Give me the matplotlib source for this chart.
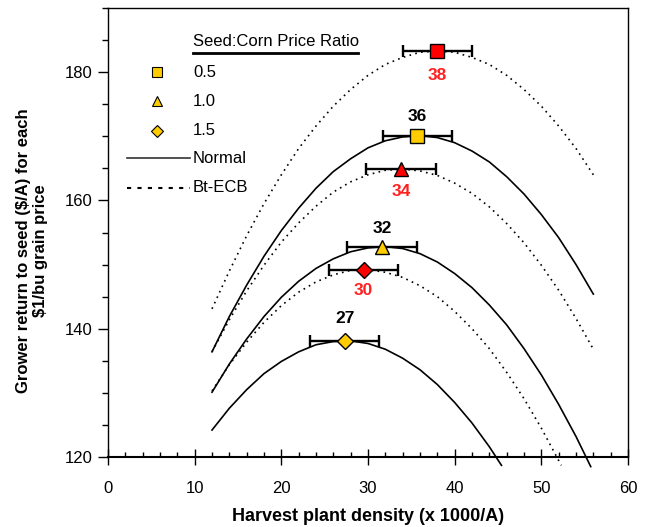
import matplotlib
matplotlib.use("Agg")
from matplotlib import pyplot as plt
from matplotlib.lines import Line2D

plt.rcParams['font.family'] = ['Liberation Sans', 'DejaVu Sans']

# curves (x = harvest density, y = return)
x_grid = [12, 14, 16, 18, 20, 22, 24, 26, 28, 30, 32, 34,
          36, 38, 40, 42, 44, 46, 48, 50, 52, 54, 56]

bt_05 = [143.1, 149.0, 154.5, 159.5, 164.0, 168.1, 171.6, 174.7, 177.3, 179.5, 181.2, 182.3,
         183.1, 183.3, 183.1, 182.3, 181.2, 179.5, 177.3, 174.7, 171.6, 168.1, 164.0]
normal_05 = [136.4, 141.9, 146.8, 151.3, 155.3, 158.8, 161.9, 164.5, 166.5, 168.2, 169.3, 169.9,
             170.1, 169.8, 169.0, 167.7, 166.0, 163.7, 161.0, 157.8, 154.2, 150.0, 145.4]
bt_10 = [136.4, 141.4, 145.9, 149.9, 153.5, 156.5, 159.1, 161.3, 162.9, 164.0, 164.7, 164.9,
         164.6, 163.9, 162.7, 161.1, 159.0, 156.4, 153.4, 149.9, 146.0, 141.6, 136.8]

x_normal_10 = [12, 14, 16, 18, 20, 22, 24, 26, 28, 30, 32, 34,
               36, 38, 40, 42, 44, 46, 48, 50, 52, 54, 55.7]
normal_10 = [130.1, 134.5, 138.4, 141.9, 144.9, 147.4, 149.4, 150.9, 152.0, 152.6, 152.8, 152.5,
             151.7, 150.4, 148.6, 146.4, 143.7, 140.6, 136.9, 132.8, 128.2, 123.2, 118.5]

x_bt_15 = [12, 14, 16, 18, 20, 22, 24, 26, 28, 30, 32, 34,
           36, 38, 40, 42, 44, 46, 48, 50, 52.3]
bt_15 = [130.3, 134.4, 137.9, 141.0, 143.6, 145.7, 147.3, 148.4, 149.1, 149.2, 148.8, 148.0,
         146.7, 145.0, 142.7, 140.0, 136.9, 133.2, 129.1, 124.5, 118.7]

x_normal_15 = [12, 14, 16, 18, 20, 22, 24, 26, 28, 30, 32, 34,
               36, 38, 40, 42, 44, 45.4]
normal_15 = [124.2, 127.6, 130.5, 133.0, 134.9, 136.4, 137.5, 138.0, 138.1, 137.7, 136.8, 135.4,
             133.6, 131.3, 128.5, 125.3, 121.6, 118.7]

# optimum points
opt_x = [38.0, 35.7, 33.8, 31.6, 29.5, 27.3]
opt_y = [183.3, 170.1, 164.9, 152.8, 149.2, 138.1]
opt_err = [4.0, 4.0, 4.0, 4.0, 4.0, 4.0]
opt_labels = ["38", "36", "34", "32", "30", "27"]
opt_markers = ["s", "^", "D"]
opt_colors = ["#ff0000", "#ffcc00", "#ff0000", "#ffcc00", "#ff0000", "#ffcc00"]
label_colors = ["#ff2020", "black", "#ff2020", "black", "#ff2020", "black"]
label_offset = [-18, 14, -16, 13, -15, 16]   # points, centre to centre

ratios = ["0.5", "1.0", "1.5"]

fig = plt.figure(figsize=(6.49, 5.27), dpi=100)
ax = fig.add_axes([108 / 649, 70 / 527, 520 / 649, 449 / 527])

dotted = (0, (1, 2.6))
ax.plot(x_grid, bt_05, color="black", lw=1.2, ls=dotted, clip_on=False)
ax.plot(x_grid, normal_05, color="black", lw=1.2, clip_on=False)
ax.plot(x_grid, bt_10, color="black", lw=1.2, ls=dotted, clip_on=False)
ax.plot(x_normal_10, normal_10, color="black", lw=1.2, clip_on=False)
ax.plot(x_bt_15, bt_15, color="black", lw=1.2, ls=dotted, clip_on=False)
ax.plot(x_normal_15, normal_15, color="black", lw=1.2, clip_on=False)

marker_size = {"s": 10, "^": 10.5, "D": 8.6}
for i in range(len(opt_x)):
    m = opt_markers[i // 2]
    ax.errorbar(opt_x[i], opt_y[i], xerr=opt_err[i], fmt="none", ecolor="black",
                elinewidth=1.7, capsize=4.6, capthick=1.7, zorder=4)
    ax.plot(opt_x[i], opt_y[i], marker=m, ms=marker_size[m], mfc=opt_colors[i],
            mec="black", mew=1, ls="none", zorder=5)
    ax.annotate(opt_labels[i], (opt_x[i], opt_y[i]), xytext=(0, label_offset[i]),
                textcoords="offset points", color=label_colors[i], fontsize=12.5,
                fontweight="bold", ha="center", va="center")

# hand made legend
ax.text(0.1635, 0.926, "Seed:Corn Price Ratio", transform=ax.transAxes,
        fontsize=12, ha="left", va="center")
ax.add_line(Line2D([0.1635, 0.481], [0.899, 0.899], transform=ax.transAxes,
                   color="black", lw=2))
leg_y = [0.857, 0.792, 0.727]
leg_size = [6.5, 7.5, 6.0]
for i in range(3):
    ax.plot(0.094, leg_y[i], marker=opt_markers[i], ms=leg_size[i],
            mfc="#ffcc00", mec="black", mew=0.8, transform=ax.transAxes, ls="none")
    ax.text(0.1635, leg_y[i], ratios[i], transform=ax.transAxes, fontsize=12,
            ha="left", va="center")
ax.add_line(Line2D([0.037, 0.158], [0.665, 0.665], transform=ax.transAxes,
                   color="#333333", lw=1.2))
ax.text(0.162, 0.665, "Normal", transform=ax.transAxes, fontsize=12, ha="left", va="center")
ax.add_line(Line2D([0.037, 0.158], [0.600, 0.600], transform=ax.transAxes,
                   color="black", lw=1.5, ls=(0, (2, 3))))
ax.text(0.162, 0.600, "Bt-ECB", transform=ax.transAxes, fontsize=12, ha="left", va="center")

ax.set_xlim(0, 60)
ax.set_ylim(120, 190)
ax.set_xticks([0, 10, 20, 30, 40, 50, 60])
ax.set_xticks(range(0, 61, 2), minor=True)
ax.set_yticks([120, 140, 160, 180])
ax.set_yticks(range(120, 191, 5), minor=True)
ax.tick_params(axis="x", which="major", direction="inout", length=12, width=1, labelsize=12, pad=11)
ax.tick_params(axis="x", which="minor", direction="in", length=3.5, width=1)
ax.tick_params(axis="y", which="major", direction="out", length=7, width=1, labelsize=12, pad=4)
ax.tick_params(axis="y", which="minor", direction="out", length=4, width=1)
for s in ax.spines.values():
    s.set_linewidth(1)
ax.spines["bottom"].set_linewidth(1.5)

ax.set_xlabel("Harvest plant density (x 1000/A)", fontsize=13, fontweight="bold", labelpad=9)
fig.text(32 / 649, 1 - 251 / 527, "Grower return to seed ($/A) for each\n$1/bu grain price",
         rotation=90, ha="center", va="center", multialignment="center",
         fontsize=12, fontweight="bold")

fig.savefig("out.png", dpi=100)
